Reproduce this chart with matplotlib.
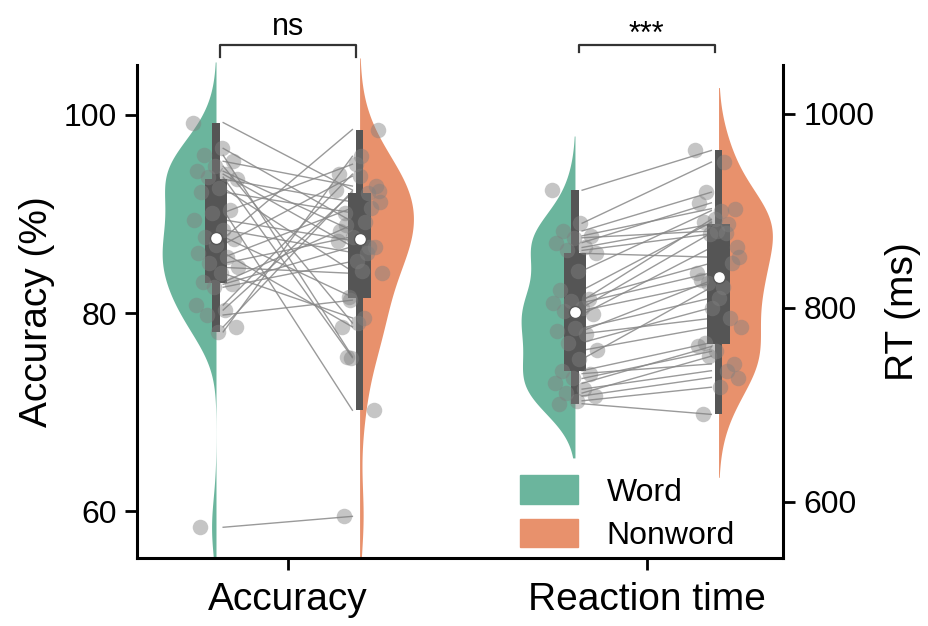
import numpy as np
import matplotlib
matplotlib.use("Agg")
import matplotlib.pyplot as plt
from matplotlib.patches import Patch

plt.rcParams['font.family'] = ['Liberation Sans', 'DejaVu Sans']

# accuracy (%) per participant
acc_word = [99.2, 96.6, 95.9, 95.3, 94.8, 94.3, 94.0, 93.7, 93.5, 92.6, 92.2,
            90.4, 90.1, 89.4, 88.4, 87.7, 87.5, 86.9, 86.1, 85.6, 85.0, 84.6,
            84.0, 83.1, 82.9, 82.6, 80.8, 80.3, 79.8, 78.6, 78.1, 58.4]
acc_nonword = [92.4, 89.2, 75.6, 92.8, 79.0, 88.3, 86.7, 75.5, 91.2, 84.2, 90.1,
               70.2, 95.0, 87.3, 86.1, 81.6, 98.5, 93.8, 78.6, 90.6, 87.7, 84.0,
               79.5, 88.9, 86.7, 85.2, 94.0, 92.1, 81.3, 92.3, 95.8, 59.5]

# reaction time (ms) per participant
rt_word = [921, 887, 879, 874, 872, 867, 862, 859, 856, 838, 818, 809, 807, 805,
           800, 797, 793, 779, 776, 773, 764, 756, 747, 735, 732, 727, 722, 716,
           712, 709, 704, 701]
rt_nonword = [962, 950, 919, 902, 879, 908, 886, 876, 852, 900, 888, 846, 891, 836,
              877, 825, 862, 810, 828, 789, 800, 780, 821, 764, 742, 755, 760, 735,
              750, 728, 718, 690]

groups = ['Accuracy', 'Reaction time']
conditions = ['Word', 'Nonword']
colors = ['#6bb59d', '#e8916c']
sig_labels = ['ns', '***']


def kde(vals, adjust=1.0, cut=2, n=400):
    vals = np.asarray(vals, dtype=float)
    bw = adjust * vals.std(ddof=1) * len(vals) ** (-1 / 5)   # scott
    grid = np.linspace(vals.min() - cut * bw, vals.max() + cut * bw, n)
    dens = np.exp(-0.5 * ((grid[:, None] - vals[None, :]) / bw) ** 2).sum(1)
    return grid, dens / dens.max()


def box_stats(vals):
    vals = np.asarray(vals, dtype=float)
    q1, med, q3 = np.percentile(vals, [25, 50, 75])
    iqr = q3 - q1
    inside = vals[(vals >= q1 - 1.5 * iqr) & (vals <= q3 + 1.5 * iqr)]
    return q1, med, q3, inside.min(), inside.max()


fig = plt.figure(figsize=(9.29, 6.26), dpi=100)
ax = fig.add_axes([0.1475, 0.1086, 0.6955, 0.7875])
ax2 = ax.twinx()

ylims = [(55.3, 105), (542, 1050)]
bw_adj = [[0.78, 0.88], [0.88, 0.9]]

off = 0.2
half_w = 0.15
n = len(acc_word)
# jitter pattern (positions only)
jit = ((np.arange(n) * 0.618034) % 1 - 0.5) * 0.13

for g, (axis, w_vals, nw_vals) in enumerate([(ax, acc_word, acc_nonword),
                                               (ax2, rt_word, rt_nonword)]):
    xw, xn = g - off, g + off
    axis.set_ylim(*ylims[g])

    # paired lines
    for a, b in zip(w_vals, nw_vals):
        axis.plot([xw + 0.02, xn - 0.02], [a, b], color='#888888', lw=1.0,
                  alpha=0.85, zorder=2)

    for k, (vals, x) in enumerate([(w_vals, xw), (nw_vals, xn)]):
        grid, d = kde(vals, bw_adj[g][k])
        keep = grid >= ylims[g][0]   # tips can poke out above the frame, not below
        grid, d = grid[keep], d[keep]
        if k == 0:
            axis.fill_betweenx(grid, x - d * half_w, x, color=colors[k], lw=0,
                               zorder=1, clip_on=False)
        else:
            axis.fill_betweenx(grid, x, x + d * half_w, color=colors[k], lw=0,
                               zorder=1, clip_on=False)

        q1, med, q3, lo, hi = box_stats(vals)
        axis.bar(x, hi - lo, bottom=lo, width=0.02, color='#555555', zorder=3)
        axis.bar(x, q3 - q1, bottom=q1, width=0.062, color='#555555', zorder=3)
        axis.scatter(x + jit, vals, s=125, color='#808080', alpha=0.45,
                     linewidths=0, zorder=4)
        axis.scatter([x], [med], s=75, color='white', edgecolors='#555555',
                     linewidths=1, zorder=5)

ax.set_xlim(-0.42, 1.38)
ax.set_yticks([60, 80, 100])
ax2.set_yticks([600, 800, 1000])
ax.set_xticks([0, 1])
ax.set_xticklabels(groups, fontsize=28)
ax.set_ylabel('Accuracy (%)', fontsize=28, labelpad=6)
ax2.set_ylabel('RT (ms)', fontsize=28, labelpad=8)

for a in (ax, ax2):
    a.spines['top'].set_visible(False)
    for s in a.spines.values():
        s.set_linewidth(2.2)
    a.tick_params(axis='y', labelsize=23, length=8.5, width=2, pad=6)
ax.tick_params(axis='x', length=8.5, width=2, pad=9)
ax.spines['right'].set_visible(False)
ax2.spines['left'].set_visible(False)
ax2.spines['bottom'].set_visible(False)

# significance brackets
for g, lab in enumerate(sig_labels):
    x0, x1 = g - off + 0.01, g + off - 0.01
    ytop = 107.05
    ybot = 105.85 if g == 0 else 106.3
    ax.plot([x0, x0, x1, x1], [ybot, ytop, ytop, ybot], color='#333333',
            lw=1.6, clip_on=False)
    ty = ytop + 0.25 if g == 0 else ytop - 0.5
    ax.text(g, ty, lab, ha='center', va='bottom', fontsize=22)

handles = [Patch(color=c, label=l) for c, l in zip(colors, conditions)]
ax2.legend(handles=handles, loc='upper left', bbox_to_anchor=(0.549, 0.226),
           frameon=False, fontsize=23, handlelength=1.8, handleheight=1.0,
           handletextpad=0.9, labelspacing=0.35, borderpad=0.4)

fig.savefig('out.png', dpi=100)
